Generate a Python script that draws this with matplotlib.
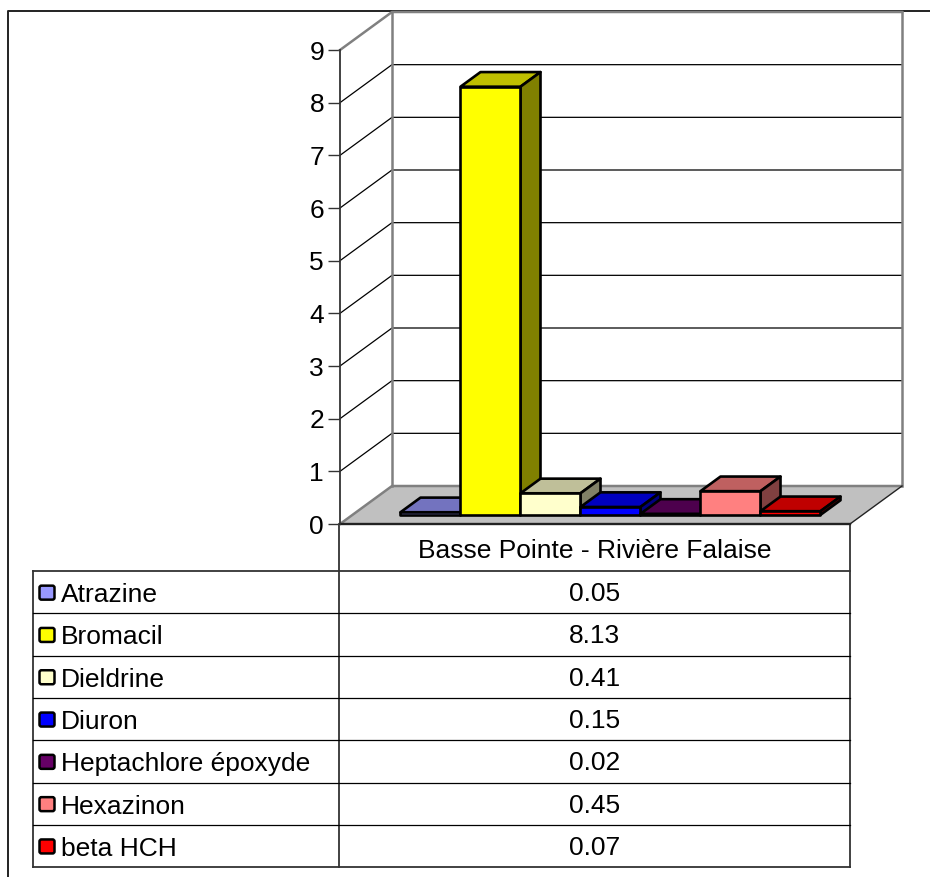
import matplotlib
matplotlib.use('Agg')
import matplotlib.pyplot as plt
from matplotlib.patches import Polygon, FancyBboxPatch

plt.rcParams['font.family'] = ['Liberation Sans', 'DejaVu Sans']

station = 'Basse Pointe - Rivière Falaise'
names = ['Atrazine', 'Bromacil', 'Dieldrine', 'Diuron', 'Heptachlore époxyde', 'Hexazinon', 'beta HCH']
values = [0.05, 8.13, 0.41, 0.15, 0.02, 0.45, 0.07]
value_labels = ['0.05', '8.13', '0.41', '0.15', '0.02', '0.45', '0.07']
front_cols = ['#9999ff', '#ffff00', '#ffffcc', '#0000ff', '#660066', '#ff8080', '#ff0000']
top_cols = ['#7373bf', '#bfbf00', '#bfbf99', '#0000bf', '#4d004d', '#bf6060', '#bf0000']
side_cols = ['#4d4d80', '#808000', '#808066', '#000080', '#330033', '#804040', '#800000']
yticks = [0, 1, 2, 3, 4, 5, 6, 7, 8, 9]

W, H = 930, 877
fig = plt.figure(figsize=(W/100, H/100), dpi=100, facecolor='white')

# pixel axes for the frame and the table
pg = fig.add_axes([0, 0, 1, 1])
pg.set_xlim(0, W)
pg.set_ylim(H, 0)
pg.axis('off')

# chart axes sit on the front plane of the 3d box
left, right, top, bottom = 340, 850, 50, 524
ax = fig.add_axes([left/W, 1-bottom/H, (right-left)/W, (bottom-top)/H])
ax.patch.set_alpha(0)
ax.set_xlim(-0.8, 7.7)
ax.set_ylim(0, 9)

# depth of the box in data units (52 px right, 38 px up)
DX = 52 / 60.0
DY = 38 / (474 / 9.0)

def proj(x, y, d):
    return (x + d*DX, y + d*DY)

# frame around the whole picture
pg.plot([8, 8, W], [H, 11, 11], color='#222222', lw=1.4, clip_on=False)

x0, x1 = -0.8, 7.7
ymax = yticks[-1]

# floor
ax.add_patch(Polygon([proj(x0, 0, 0), proj(x1, 0, 0), proj(x1, 0, 1), proj(x0, 0, 1)],
                     fc='#c0c0c0', ec='none', clip_on=False, zorder=1))

# grid lines on the walls
for v in yticks[1:-1]:
    a, b, c = proj(x0, v, 0), proj(x0, v, 1), proj(x1, v, 1)
    ax.plot([a[0], b[0], c[0]], [a[1], b[1], c[1]], color='black', lw=0.9, clip_on=False, zorder=2)

# gray box edges
a, b, c = proj(x0, ymax, 0), proj(x0, ymax, 1), proj(x1, ymax, 1)
ax.plot([a[0], b[0], c[0]], [a[1], b[1], c[1]], color='#808080', lw=1.8, clip_on=False, zorder=2)
for x in [x0, x1]:
    a, b = proj(x, 0, 1), proj(x, ymax, 1)
    ax.plot([a[0], b[0]], [a[1], b[1]], color='#808080', lw=1.8, clip_on=False, zorder=2)
a, b, c = proj(x0, 0, 0), proj(x0, 0, 1), proj(x1, 0, 1)
ax.plot([a[0], b[0], c[0]], [a[1], b[1], c[1]], color='#808080', lw=1.8, clip_on=False, zorder=2)
a, b = proj(x1, 0, 0), proj(x1, 0, 1)
ax.plot([a[0], b[0]], [a[1], b[1]], color='#222222', lw=1.0, clip_on=False, zorder=2)
ax.plot([x0, x1], [0, 0], color='#222222', lw=1.7, clip_on=False, zorder=2)

# bars, left to right so each one hides the side of the last
d0, d1 = 0.24, 0.625
for i, v in enumerate(values):
    z = 3 + i
    lo, hi = i, i + 1
    kw = dict(ec='black', lw=1.9, joinstyle='round', clip_on=False, zorder=z)
    ax.add_patch(Polygon([proj(lo, v, d0), proj(hi, v, d0), proj(hi, v, d1), proj(lo, v, d1)],
                         fc=top_cols[i], **kw))
    ax.add_patch(Polygon([proj(hi, 0, d0), proj(hi, v, d0), proj(hi, v, d1), proj(hi, 0, d1)],
                         fc=side_cols[i], **kw))
    ax.add_patch(Polygon([proj(lo, 0, d0), proj(hi, 0, d0), proj(hi, v, d0), proj(lo, v, d0)],
                         fc=front_cols[i], **kw))

# value axis
ax.set_yticks(yticks)
ax.set_xticks([])
ax.tick_params(axis='y', length=8.5, width=1.0, color='#333333', labelsize=19, pad=3)
for s in ['top', 'right', 'bottom']:
    ax.spines[s].set_visible(False)
ax.spines['left'].set_color('#333333')
ax.spines['left'].set_linewidth(1.3)

# data table under the chart
tab_left, col, tab_right = 33, 339, 850
head_top, row_top, row_h = 524, 571, 42.3
fs = 19
n = len(names)
tab_bottom = row_top + n*row_h
line = '#333333'
pg.plot([col, col], [head_top, tab_bottom], color=line, lw=1.3)
pg.plot([tab_right, tab_right], [head_top, tab_bottom], color=line, lw=1.3)
pg.plot([tab_left, tab_left], [row_top, tab_bottom], color=line, lw=1.3)
pg.plot([tab_left, tab_right], [row_top, row_top], color=line, lw=1.3)
pg.plot([tab_left, tab_right], [tab_bottom, tab_bottom], color=line, lw=1.3)
pg.text((col+tab_right)/2, (head_top+row_top)/2 + 3, station, ha='center', va='center', fontsize=fs)

for i, nm in enumerate(names):
    y = row_top + i*row_h
    if i > 0:
        pg.plot([tab_left, tab_right], [y, y], color='black', lw=0.9)
    yc = y + row_h/2
    pg.add_patch(FancyBboxPatch((39.5, yc-6.5), 15, 14, boxstyle='round,pad=0,rounding_size=2',
                                fc=front_cols[i], ec='black', lw=1.8))
    pg.text(61, yc + 3, nm, ha='left', va='center', fontsize=fs)
    pg.text((col+tab_right)/2, yc + 2, value_labels[i], ha='center', va='center', fontsize=fs)

fig.savefig('out.png', dpi=100)
